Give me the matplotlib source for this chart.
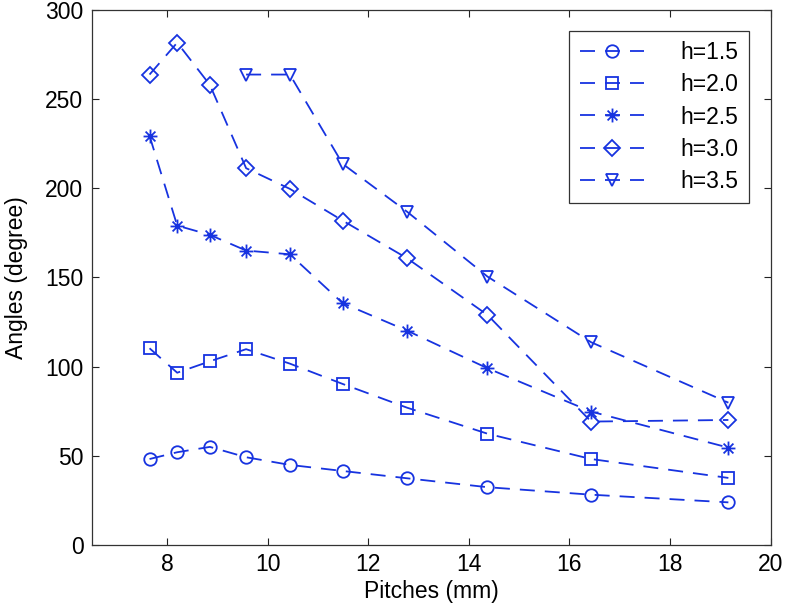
import numpy as np
import matplotlib
matplotlib.use("Agg")
import matplotlib.pyplot as plt
from matplotlib.path import Path

plt.rcParams['font.family'] = ['Liberation Sans', 'DejaVu Sans']
plt.rcParams['lines.scale_dashes'] = False

pitches = [7.65, 8.2, 8.85, 9.57, 10.44, 11.49, 12.77, 14.37, 16.43, 19.16]
h15 = [48.2, 52.0, 55.0, 49.2, 44.9, 41.5, 37.4, 32.4, 28.2, 23.9]
h20 = [110.3, 96.6, 103.0, 109.8, 101.7, 90.3, 77.0, 62.4, 48.2, 37.6]
h25 = [229.4, 179.1, 173.9, 165.1, 163.0, 135.6, 120.2, 99.1, 74.8, 54.6]
h30 = [263.8, 281.7, 258.0, 211.3, 199.7, 181.9, 160.8, 129.0, 69.2, 70.1]
h35 = [np.nan, np.nan, np.nan, 263.8, 263.8, 213.7, 186.9, 150.5, 113.7, 79.8]
labels = ["h=1.5", "h=2.0", "h=2.5", "h=3.0", "h=3.5"]

d = 0.7071
asterisk = Path([(0, -1), (0, 1), (-1, 0), (1, 0), (-d, -d), (d, d), (-d, d), (d, -d)],
                [Path.MOVETO, Path.LINETO] * 4)
markers = ["o", "s", asterisk, "D", "v"]
msizes = [9, 8, 10, 8, 9]

color = '#1733e0'
fig = plt.figure(figsize=(7.92, 6.10), dpi=100)
ax = fig.add_axes([0.1158, 0.1066, 0.973 - 0.1158, 0.9836 - 0.1066])

for ys, lab, m, ms in zip([h15, h20, h25, h30, h35], labels, markers, msizes):
    ax.plot(pitches, ys, linestyle=(0, (10.8, 7.2)), color=color, lw=1.3,
            marker=m, markersize=ms, markerfacecolor='none',
            markeredgecolor=color, markeredgewidth=1.3, label=lab)

ax.set_xlim(6.5, 20)
ax.set_ylim(0, 300)
ax.set_xticks(np.arange(8, 21, 2))
ax.set_yticks(np.arange(0, 301, 50))
ax.tick_params(direction='in', length=5, width=0.8, top=True, right=True,
               labelsize=16.5, colors='#222222', labelcolor='black', pad=6)
for s in ax.spines.values():
    s.set_color('#333333')
    s.set_linewidth(0.9)
ax.set_xlabel("Pitches (mm)", fontsize=16.5, labelpad=3)
ax.set_ylabel("Angles (degree)", fontsize=16.5, labelpad=12)

leg = ax.legend(loc='upper right', bbox_to_anchor=(0.968, 0.961), fontsize=16.5,
                handlelength=2.8, handletextpad=1.6, borderpad=0.45,
                labelspacing=0.4, fancybox=False, framealpha=1,
                edgecolor='#333333', borderaxespad=0)
leg.get_frame().set_linewidth(0.9)

fig.savefig("out.png", dpi=100)
